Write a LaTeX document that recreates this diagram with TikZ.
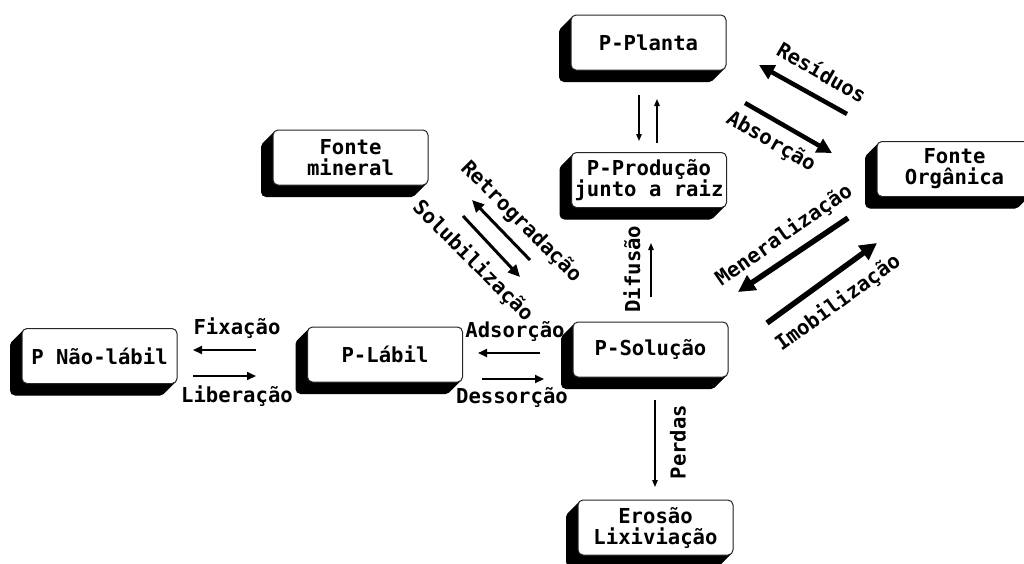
\documentclass[tikz,border=0pt]{standalone}
\usepackage{fontspec}
\newfontfamily\dmono{DejaVu Sans Mono}
\usetikzlibrary{arrows.meta}
\tikzset{
  txt/.style={font=\dmono\bfseries\fontsize{20.6}{21}\selectfont},
  pbox/.style={txt, draw=black!85, line width=1pt, fill=white, rounded corners=5pt,
    minimum width=155pt, minimum height=55pt, inner sep=0pt, align=center},
  lbl/.style={txt, inner sep=0pt},
  athin/.style={line width=1.3pt, -{Triangle[length=7pt,width=5.5pt]}},
  amed/.style={line width=2pt, -{Triangle[length=9pt,width=8pt]}},
  athick/.style={line width=3pt, -{Triangle[length=12pt,width=11pt]}},
  abig/.style={line width=4.5pt, -{Triangle[length=15pt,width=15pt]}},
  ahuge/.style={line width=5.5pt, -{Triangle[length=17pt,width=17pt]}},
}
\newcommand\pbx[4]{%
  \foreach \k in {0,0.5,...,12}{%
    \fill[black,rounded corners=5pt] ({#2-77.5-\k},{#3-27.5+\k}) rectangle ++(155,55);}
  \node[pbox] (#1) at (#2,#3) {#4};}
\begin{document}
\begin{tikzpicture}[x=1pt,y=-1pt]
\useasboundingbox (0,0) rectangle (1024,563);
\clip (0,0) rectangle (1024,563);

% boxes
\pbx{planta}{648.5}{42.5}{P-Planta}
\pbx{mineral}{350.5}{157.5}{Fonte\\mineral}
\pbx{producao}{649}{180}{P-Produção\\junto a raiz}
\pbx{organica}{954.5}{169}{Fonte\\Orgânica}
\pbx{naolabil}{99.5}{356}{P Não-lábil}
\pbx{labil}{385}{354.5}{P-Lábil}
\pbx{solucao}{650.5}{349.5}{P-Solução}
\pbx{erosao}{655.5}{527.5}{Erosão\\Lixiviação}

% arrow end points
\coordinate (fixS) at (256,350); \coordinate (fixE) at (193,350);
\coordinate (libS) at (193,376); \coordinate (libE) at (256,376);
\coordinate (adsS) at (540,353); \coordinate (adsE) at (478,353);
\coordinate (desS) at (482,379); \coordinate (desE) at (544,379);
\coordinate (pdS) at (639,95);   \coordinate (pdE) at (639,141);
\coordinate (puS) at (657,143);  \coordinate (puE) at (657,99);
\coordinate (difS) at (651,297); \coordinate (difE) at (651,243);
\coordinate (perS) at (655,400); \coordinate (perE) at (655,487);
\coordinate (retS) at (530,260); \coordinate (retE) at (472,200);
\coordinate (solS) at (463,216); \coordinate (solE) at (520,277);
\coordinate (resS) at (847,114); \coordinate (resE) at (759,65);
\coordinate (absS) at (745,103); \coordinate (absE) at (832,153);
\coordinate (menS) at (848,218); \coordinate (menE) at (738,292);
\coordinate (imoS) at (767,323); \coordinate (imoE) at (877,243);

% arrows
\draw[amed] (fixS) -- (fixE);
\draw[amed] (libS) -- (libE);
\draw[amed] (adsS) -- (adsE);
\draw[amed] (desS) -- (desE);
\draw[athin] (pdS) -- (pdE);
\draw[athin] (puS) -- (puE);
\draw[athin] (difS) -- (difE);
\draw[athin] (perS) -- (perE);
\draw[athick] (retS) -- (retE);
\draw[athick] (solS) -- (solE);
\draw[abig] (resS) -- (resE);
\draw[abig] (absS) -- (absE);
\draw[ahuge] (menS) -- (menE);
\draw[ahuge] (imoS) -- (imoE);

% labels
\node[lbl] (lfix) at (237,328) {Fixação};
\node[lbl] (llib) at (237,396) {Liberação};
\node[lbl] (lads) at (515,331) {Adsorção};
\node[lbl] (ldes) at (512,397) {Dessorção};
\node[lbl, rotate=90] (ldif) at (632,269) {Difusão};
\node[lbl, rotate=90] (lper) at (678,442) {Perdas};
\node[lbl, rotate=-45] (lret) at (521,222) {Retrogradação};
\node[lbl, rotate=-45] (lsol) at (473,261) {Solubilização};
\node[lbl, rotate=-30] (lres) at (822,72) {Resíduos};
\node[lbl, rotate=-30] (labs) at (771,142) {Absorção};
\node[lbl, rotate=35] (lmen) at (784,235) {Meneralização};
\node[lbl, rotate=36] (limo) at (838,303) {Imobilização};
\end{tikzpicture}
\end{document}
